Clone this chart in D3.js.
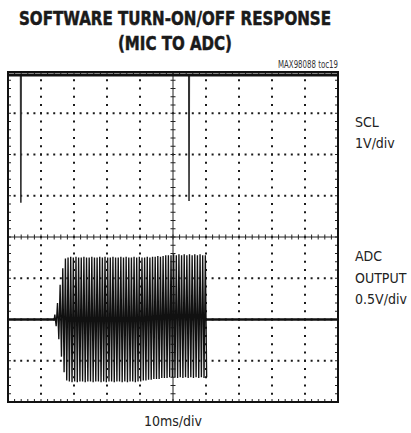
<!DOCTYPE html>
<html>
<head>
<meta charset="utf-8">
<script src="https://cdn.jsdelivr.net/npm/d3@7"></script>
<style>
  html, body { margin: 0; padding: 0; background: #fff; }
  svg { display: block; }
</style>
</head>
<body>
<svg id="chart" width="411" height="433"></svg>
<script>
// ---------------- data ----------------
const titleLines = ["SOFTWARE TURN-ON/OFF RESPONSE", "(MIC TO ADC)"];
const tocLabel = "MAX98088 toc19";
const sclLabels = ["SCL", "1V/div"];
const adcLabels = ["ADC", "OUTPUT", "0.5V/div"];
const timeLabel = "10ms/div";

const timeDomainMs = [0, 100];       // 10 divisions x 10 ms
const divDomain = [-4, 4];           // 8 vertical divisions
const sclVoltsPerDiv = 1;
const adcVoltsPerDiv = 0.5;
const sclOffsetDiv = 0.83;
const adcOffsetDiv = -2;

// SCL trace (ms, V)
const sclTime  = [0,   3.82, 3.9, 3.98, 54.78, 54.86, 54.94, 100];
const sclVolts = [3.1, 3.1,  0,   3.1,  3.1,   0.04,  3.1,   3.1];

// ADC idle baseline segments (ms)
const adcIdleBefore = [0, 14.2];
const adcIdleAfter  = [60.0, 100];

// ADC burst: one entry per visible cycle (ms, peak V, trough V)
const adcCycleTime = [14.2,15.0,15.8,16.6,17.4,18.2,19.0,19.8,20.6,21.4,22.2,23.0,23.8,24.6,25.4,26.2,27.0,27.8,28.6,29.4,30.2,31.0,31.8,32.6,33.4,34.2,35.0,35.8,36.6,37.4,38.2,39.0,39.8,40.6,41.4,42.2,43.0,43.8,44.6,45.4,46.2,47.0,47.8,48.6,49.4,50.2,51.0,51.8,52.6,53.4,54.2,55.0,55.8,56.6,57.4,58.2,59.0,59.8];
const adcCycleHigh = [0.06,0.2,0.42,0.62,0.74,0.75,0.76,0.75,0.76,0.75,0.75,0.76,0.75,0.75,0.76,0.75,0.75,0.76,0.75,0.76,0.75,0.75,0.76,0.75,0.75,0.76,0.75,0.76,0.75,0.75,0.76,0.75,0.76,0.75,0.75,0.76,0.75,0.76,0.76,0.77,0.76,0.77,0.78,0.78,0.78,0.79,0.78,0.79,0.78,0.79,0.78,0.79,0.78,0.79,0.78,0.79,0.78,0.78];
const adcCycleLow  = [-0.08,-0.24,-0.45,-0.64,-0.74,-0.75,-0.76,-0.75,-0.76,-0.75,-0.75,-0.76,-0.75,-0.75,-0.76,-0.75,-0.75,-0.76,-0.75,-0.76,-0.75,-0.75,-0.76,-0.75,-0.75,-0.76,-0.75,-0.76,-0.75,-0.75,-0.76,-0.75,-0.75,-0.74,-0.74,-0.73,-0.73,-0.72,-0.72,-0.72,-0.71,-0.71,-0.71,-0.70,-0.70,-0.70,-0.71,-0.70,-0.71,-0.70,-0.71,-0.70,-0.71,-0.70,-0.71,-0.70,-0.71,-0.70];

// ---------------- drawing ----------------
const svg = d3.select("#chart");
const L = 8, R = 338, T = 72, B = 402;
const x = d3.scaleLinear().domain(timeDomainMs).range([L, R]);
const y = d3.scaleLinear().domain(divDomain).range([B, T]);
const xMajor = d3.range(0, 101, 10);
const xMinor = d3.range(0, 100.01, 2);
const yMajor = d3.range(-4, 4.01, 1);
const yMinor = d3.range(-4, 4.01, 0.2);

const condensed = "'Liberation Sans Narrow','DejaVu Sans Condensed','Arial Narrow',sans-serif";

// Title
const title = svg.append("g").attr("font-family", condensed).attr("font-weight", "bold")
  .attr("font-size", 19.5).attr("fill", "#1a1a1a").attr("stroke", "#1a1a1a").attr("stroke-width", 0.5)
  .attr("text-anchor", "middle");
title.append("text").attr("x", 175).attr("y", 24.5).text(titleLines[0])
  .attr("textLength", 312).attr("lengthAdjust", "spacingAndGlyphs");
title.append("text").attr("x", 175).attr("y", 49.5).text(titleLines[1])
  .attr("textLength", 114).attr("lengthAdjust", "spacingAndGlyphs");

svg.append("text").attr("x", 338).attr("y", 67.5).attr("text-anchor", "end")
  .attr("font-family", condensed).attr("font-size", 10).attr("fill", "#333")
  .attr("textLength", 60).attr("lengthAdjust", "spacingAndGlyphs").text(tocLabel);

// Grid: dotted lines
const grid = svg.append("g").attr("fill", "#1a1a1a");
xMajor.filter(v => v > 0 && v < 100 && v !== 50).forEach(v => {
  yMinor.forEach(d => {
    grid.append("rect").attr("x", x(v) - 1).attr("y", y(d) - 1).attr("width", 2).attr("height", 2);
  });
});
yMajor.filter(v => v > -4 && v < 4 && v !== 0).forEach(v => {
  xMinor.forEach(t => {
    grid.append("rect").attr("x", x(t) - 1).attr("y", y(v) - 1).attr("width", 2).attr("height", 2);
  });
});

// Center axes with ticks
const axes = svg.append("g").attr("stroke", "#222").attr("stroke-width", 1);
axes.append("line").attr("x1", L).attr("x2", R).attr("y1", y(0)).attr("y2", y(0));
axes.append("line").attr("x1", x(50)).attr("x2", x(50)).attr("y1", T).attr("y2", B);
xMinor.forEach(t => {
  axes.append("line").attr("x1", x(t)).attr("x2", x(t)).attr("y1", y(0) - 2.5).attr("y2", y(0) + 2.5);
  axes.append("line").attr("x1", x(t)).attr("x2", x(t)).attr("y1", B).attr("y2", B - 3);
  axes.append("line").attr("x1", x(t)).attr("x2", x(t)).attr("y1", T).attr("y2", T + 3);
});
yMinor.forEach(d => {
  axes.append("line").attr("x1", x(50) - 2.5).attr("x2", x(50) + 2.5).attr("y1", y(d)).attr("y2", y(d));
  axes.append("line").attr("x1", L).attr("x2", L + 3).attr("y1", y(d)).attr("y2", y(d));
  axes.append("line").attr("x1", R).attr("x2", R - 3).attr("y1", y(d)).attr("y2", y(d));
});

// ADC trace
const adcY = v => y(v / adcVoltsPerDiv + adcOffsetDiv);
const line = d3.line().x(p => x(p[0])).y(p => p[1]);
const burstPts = [];
adcCycleTime.forEach((t, i) => {
  burstPts.push([t, adcY(adcCycleHigh[i])]);
  burstPts.push([t + 0.4, adcY(adcCycleLow[i])]);
});
svg.append("path").attr("d", line([[adcCycleTime[0] - 0.2, adcY(0)], ...burstPts, [adcIdleAfter[0], adcY(0)]]))
  .attr("fill", "none").attr("stroke", "#111").attr("stroke-width", 1.35);
svg.append("path").attr("d", line(adcIdleBefore.map(t => [t, adcY(0)])))
  .attr("fill", "none").attr("stroke", "#111").attr("stroke-width", 2.6);
svg.append("path").attr("d", line(adcIdleAfter.map(t => [t, adcY(0)])))
  .attr("fill", "none").attr("stroke", "#111").attr("stroke-width", 2.6);

// SCL trace
const sclY = v => y(v / sclVoltsPerDiv + sclOffsetDiv);
svg.append("path").attr("d", line(sclTime.map((t, i) => [t, sclY(sclVolts[i])])))
  .attr("fill", "none").attr("stroke", "#333").attr("stroke-width", 1.6);
svg.append("line").attr("x1", L).attr("x2", R).attr("y1", sclY(3.1)).attr("y2", sclY(3.1))
  .attr("stroke", "#111").attr("stroke-width", 3);

// Frame
svg.append("rect").attr("x", L).attr("y", T).attr("width", R - L).attr("height", B - T)
  .attr("fill", "none").attr("stroke", "#111").attr("stroke-width", 2);

// Side labels
const side = svg.append("g").attr("font-family", condensed).attr("font-size", 14).attr("fill", "#222");
sclLabels.forEach((s, i) => side.append("text").attr("x", 355).attr("y", 127 + i * 21).text(s));
adcLabels.forEach((s, i) => side.append("text").attr("x", 355).attr("y", 261 + i * 21.5).text(s));

svg.append("text").attr("x", 173).attr("y", 426).attr("text-anchor", "middle")
  .attr("font-family", condensed).attr("font-size", 14).attr("fill", "#222").text(timeLabel);
</script>
</body>
</html>
